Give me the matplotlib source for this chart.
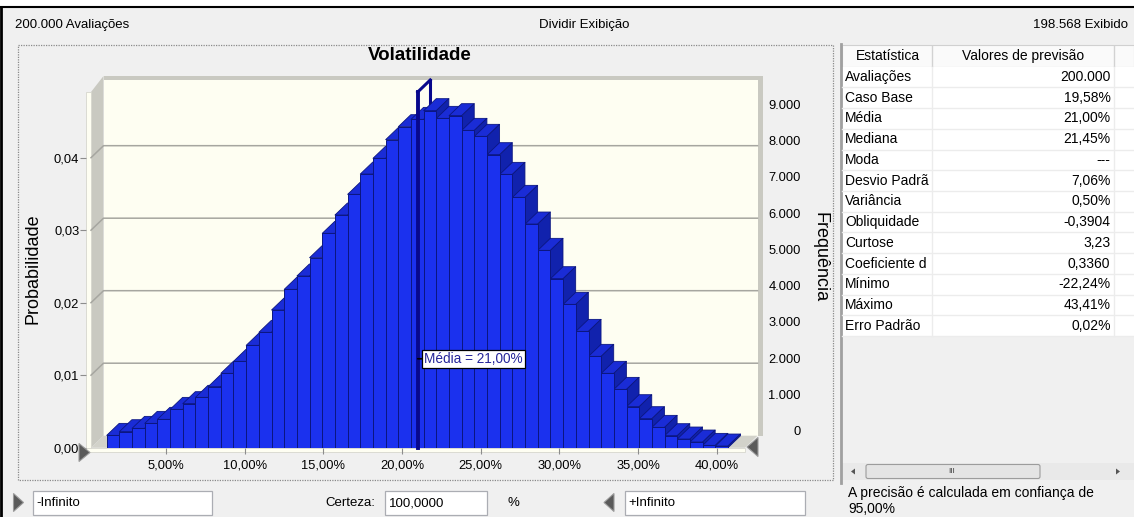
import numpy as np
import matplotlib
matplotlib.use("Agg")
import matplotlib.pyplot as plt
from matplotlib.patches import Rectangle, Polygon, FancyBboxPatch
from matplotlib.collections import PolyCollection

W, H = 1134, 517
plt.rcParams['font.family'] = ['Liberation Sans', 'DejaVu Sans']

# --- data ---
TRIALS = 200000
SHOWN = 198568
bin_lo, bin_hi = 1.23, 40.72          # % range covered by the histogram bins
counts = [340, 441, 533, 671, 782, 1057, 1214, 1389, 1683, 2051,
          2382, 2823, 3182, 3798, 4368, 4736, 5241, 5913, 6418, 6989,
          7549, 7982, 8497, 8855, 9057, 9297, 9085, 9159, 8754, 8589,
          8083, 7540, 6906, 6170, 5444, 4662, 3954, 3209, 2520, 2051,
          1609, 1131, 800, 561, 331, 239, 156, 64, 46]
mean_val = 21.00
x_ticks = [5, 10, 15, 20, 25, 30, 35, 40]
prob_ticks = [0.0, 0.01, 0.02, 0.03, 0.04]
freq_ticks = [0, 1000, 2000, 3000, 4000, 5000, 6000, 7000, 8000, 9000]

stat_names = ["Avaliações", "Caso Base", "Média", "Mediana", "Moda", "Desvio Padrã",
              "Variância", "Obliquidade", "Curtose", "Coeficiente d", "Mínimo",
              "Máximo", "Erro Padrão"]
stat_values = ["200.000", "19,58%", "21,00%", "21,45%", "---", "7,06%", "0,50%",
               "-0,3904", "3,23", "0,3360", "-22,24%", "43,41%", "0,02%"]

def br(v, nd=2):
    return f"{v:.{nd}f}".replace('.', ',')

def thousands(v):
    return f"{v:,}".replace(',', '.')

# colours
GRAY_BG = '#f0f0f0'
CREAM = '#fefef2'
WALL = '#c9c9c1'
GRID = '#a6a6a0'
FRONT = '#1b31ee'
TOP = '#1a2cd6'
SIDE = '#1122ad'
EDGE = '#0b1680'
NAVY = '#08088c'
FS = 10  # UI text size

fig = plt.figure(figsize=(W / 100, H / 100), dpi=100)
fig.patch.set_facecolor(GRAY_BG)

bg = fig.add_axes([0, 0, 1, 1])
bg.set_xlim(0, W)
bg.set_ylim(H, 0)
bg.axis('off')
bg.set_zorder(0)

def px_axes(l, t, r, b):
    return fig.add_axes([l / W, 1 - b / H, (r - l) / W, (b - t) / H])

# window frame
bg.add_patch(Rectangle((0, 0), W, 6, fc='white', ec='none'))
bg.plot([0, W], [6.5, 6.5], color='black', lw=1.5)
bg.plot([1, 1], [6.5, H], color='black', lw=2)

# top strip
bg.text(15, 25, f"{thousands(TRIALS)} Avaliações", fontsize=9.5, va='center', ha='left')
bg.text(584, 25, "Dividir Exibição", fontsize=9.5, va='center', ha='center')
bg.text(1128, 25, f"{thousands(SHOWN)} Exibido", fontsize=9.5, va='center', ha='right')

# chart panel dotted border
bg.add_patch(Rectangle((18, 44.5), 815, 435.5, fc='none', ec='#8a8a8a', lw=0.9, ls=(0, (1, 1))))
bg.text(420, 55, "Volatilidade", fontsize=13.5, fontweight='bold', ha='center', va='center')

# --- histogram axes (front plane) ---
ax = px_axes(91, 92, 745, 447.7)
x0, x1 = 0.233, 41.80
y0, y1 = 0.0, 0.04906
ax.set_xlim(x0, x1)
ax.set_ylim(y0, y1)
ax.patch.set_alpha(0)
for s in ax.spines.values():
    s.set_visible(False)
ax.set_zorder(2)

sx = 654 / (x1 - x0)          # px per % unit
sy = 355.7 / (y1 - y0)        # px per probability unit
DX, DY = 12.5 / sx, 12 / sy   # 3D depth offset

# back wall with rim
ax.add_patch(Rectangle((x0 + DX, y0 + DY), (x1 - x0) + 5 / sx, (y1 - y0) + 4 / sy,
                       fc=WALL, ec='none', clip_on=False, zorder=0.5))
ax.add_patch(Rectangle((x0 + DX, y0 + DY), (x1 - x0), (y1 - y0),
                       fc=CREAM, ec='none', clip_on=False, zorder=0.6))
# left wall
ax.add_patch(Polygon([(x0, y0), (x0 + DX, y0 + DY), (x0 + DX, y1 + DY + 4 / sy), (x0, y1)],
                     closed=True, fc=WALL, ec='none', clip_on=False, zorder=0.7))
ax.add_patch(Rectangle((x0 - 5 / sx, y0 - 4.5 / sy), 5 / sx, (y1 - y0) + 4.5 / sy,
                       fc=CREAM, ec='#d6d6ce', lw=0.6, clip_on=False, zorder=0.8))
# floor
ax.add_patch(Polygon([(x0, y0), (x1, y0), (x1 + DX, y0 + DY), (x0 + DX, y0 + DY)],
                     closed=True, fc='#d2d2ca', ec='none', clip_on=False, zorder=0.7))
ax.add_patch(Rectangle((x0 - 5 / sx, y0 - 4.5 / sy), (x1 - x0) + 5 / sx, 4.5 / sy,
                       fc=CREAM, ec='#d6d6ce', lw=0.6, clip_on=False, zorder=0.8))

# grid lines on the walls
for p in prob_ticks[1:]:
    ax.plot([x0, x0 + DX, x1 + DX], [p, p + DY, p + DY], color=GRID, lw=1.1,
            clip_on=False, zorder=0.9)

# mean line, back part (hidden behind bars)
ax.plot([mean_val + DX, mean_val + DX], [DY, y1 + DY], color=NAVY, lw=2.2,
        clip_on=False, zorder=1)

# 3D bars
counts = np.array(counts, dtype=float)
probs = counts / TRIALS
edges = np.linspace(bin_lo, bin_hi, len(counts) + 1)
bw = edges[1] - edges[0]
faces, fcols = [], []
for left, h in zip(edges[:-1], probs):
    r = left + bw
    faces.append([(left, h), (r, h), (r + DX, h + DY), (left + DX, h + DY)])
    fcols.append(TOP)
    faces.append([(r, 0), (r, h), (r + DX, h + DY), (r + DX, DY)])
    fcols.append(SIDE)
pc = PolyCollection(faces, facecolors=fcols, edgecolors=EDGE, linewidths=0.6, zorder=3)
ax.add_collection(pc)
ax.bar(edges[:-1], probs, width=bw, align='edge', color=FRONT, edgecolor=EDGE,
       linewidth=0.7, zorder=4)

# mean line, front part and cap
ax.plot([mean_val, mean_val], [0, y1], color=NAVY, lw=2.8, clip_on=False, zorder=5)
ax.plot([mean_val, mean_val + DX], [y1, y1 + DY], color=NAVY, lw=2.2, clip_on=False, zorder=5)
ax.annotate(f"Média = {br(mean_val)}%", xy=(mean_val, y1 * 0.25), xytext=(4.5, 0),
            textcoords='offset points', ha='left', va='center', fontsize=9.8, color='#26269a',
            bbox=dict(boxstyle='square,pad=0.15', fc='white', ec='black', lw=0.9),
            arrowprops=dict(arrowstyle='-', color='black', lw=1.2, shrinkA=0, shrinkB=0),
            zorder=6)

# axes ticks
ax.set_xticks(x_ticks)
ax.set_xticklabels([f"{br(v)}%" for v in x_ticks])
ax.tick_params(axis='x', direction='out', length=4.3, width=0.8, color='#8c8c8c',
               pad=4.5, labelsize=9.3)
ax.set_yticks(prob_ticks)
ax.set_yticklabels([br(v) for v in prob_ticks])
ax.spines['left'].set_position(('outward', 3.6))
ax.tick_params(axis='y', direction='out', length=4.3, width=0.8, color='#8c8c8c',
               pad=0.5, labelsize=9.3)

# frequency scale (back plane)
axf = px_axes(91, 92 - 17, 745, 447.7 - 17)
axf.set_xlim(x0, x1)
axf.set_ylim(y0 * TRIALS, y1 * TRIALS)
axf.patch.set_alpha(0)
for s in axf.spines.values():
    s.set_visible(False)
axf.set_xticks([])
axf.set_yticks(freq_ticks)
axf.set_yticklabels([thousands(v) for v in freq_ticks])
axf.tick_params(axis='y', left=False, labelleft=False, right=True, labelright=True,
                length=0, pad=40.3, labelsize=9.3)
plt.setp(axf.get_yticklabels(), ha='right')
axf.set_zorder(1)

bg.text(33, 269, "Probabilidade", rotation=90, fontsize=13, ha='center', va='center')
bg.text(820, 257, "Frequência", rotation=270, fontsize=13, ha='center', va='center')

# certainty grabbers on the chart
tri_kw = dict(closed=True, fc='#5a5a5a', ec='#9a9a9a', lw=0.8, zorder=8)
fig_tri = fig.add_axes([0, 0, 1, 1])
fig_tri.set_xlim(0, W)
fig_tri.set_ylim(H, 0)
fig_tri.axis('off')
fig_tri.set_zorder(5)
fig_tri.add_patch(Polygon([(79, 443.5), (79, 461.5), (90, 452.5)], **tri_kw))
fig_tri.add_patch(Polygon([(758, 437.5), (758, 456.5), (747, 447)], **tri_kw))

# --- statistics table ---
bg.plot([841, 841], [44, 483], color='#a0a0a0', lw=2)
bg.add_patch(Rectangle((842, 45), W - 842, 21.7, fc='#fafafa', ec='#d0d0d0', lw=0.8))
for xs in (932, 1114):
    bg.plot([xs, xs], [46, 66], color='#d2d2d2', lw=1)
bg.text(887.5, 56, "Estatística", fontsize=FS, ha='center', va='center')
bg.text(1023, 56, "Valores de previsão", fontsize=FS, ha='center', va='center')

row_h = 20.72
top_rows = 66.7
bg.add_patch(Rectangle((842, top_rows), W - 842, row_h * len(stat_names), fc='white', ec='none'))
for i, (name, val) in enumerate(zip(stat_names, stat_values)):
    yc = top_rows + (i + 0.5) * row_h
    bg.text(845, yc, name, fontsize=FS, ha='left', va='center')
    bg.text(1110.5, yc, val, fontsize=FS, ha='right', va='center')
    bg.plot([842, W], [top_rows + (i + 1) * row_h] * 2, color='#ececec', lw=1)
for xs in (932, 1114):
    bg.plot([xs, xs], [top_rows, top_rows + row_h * len(stat_names)], color='#ececec', lw=1)

# horizontal scrollbar
bg.add_patch(Rectangle((842, 463), W - 842, 17, fc='#e9e9e9', ec='none'))
bg.add_patch(FancyBboxPatch((866, 464.5), 174, 14, boxstyle='round,pad=0,rounding_size=2',
                            fc='#e4e4e4', ec='#9c9c9c', lw=0.8))
bg.text(952, 471.5, "III", fontsize=6, ha='center', va='center', color='#444444')
bg.add_patch(Polygon([(851, 471.5), (855, 468.5), (855, 474.5)], closed=True, fc='#555555', ec='none'))
bg.add_patch(Polygon([(1120, 471.5), (1116, 468.5), (1116, 474.5)], closed=True, fc='#555555', ec='none'))

# --- bottom controls ---
bg.add_patch(Polygon([(13.5, 493.5), (13.5, 511.5), (23.5, 502.5)], closed=True,
                     fc='#5a5a5a', ec='#9a9a9a', lw=0.8))
bg.add_patch(Polygon([(614, 493.5), (614, 511.5), (604, 502.5)], closed=True,
                     fc='#5a5a5a', ec='#9a9a9a', lw=0.8))
for (l, r, txt) in [(33, 212, "-Infinito"), (385, 487, "100,0000"), (625, 805, "+Infinito")]:
    bg.add_patch(Rectangle((l, 491), r - l, 24, fc='white', ec='#abadb3', lw=0.9))
    bg.text(l + 3.5, 503, txt, fontsize=9.5, ha='left', va='center')
bg.text(325, 503, "Certeza:", fontsize=9.5, ha='left', va='center')
bg.text(507, 503, "%", fontsize=9.5, ha='left', va='center')
bg.text(848, 493.5, "A precisão é calculada em confiança de", fontsize=FS, ha='left', va='center')
bg.text(848, 509, "95,00%", fontsize=FS, ha='left', va='center')

fig.savefig("out.png", dpi=100, facecolor=fig.get_facecolor())
